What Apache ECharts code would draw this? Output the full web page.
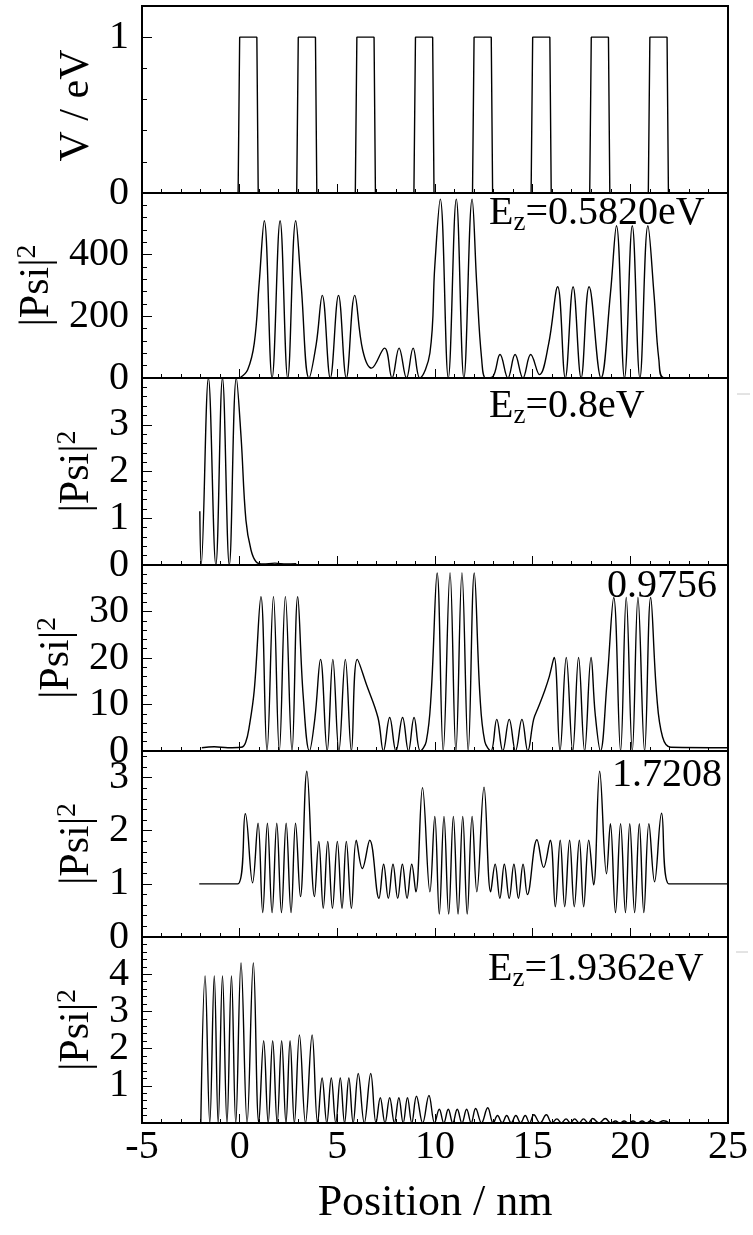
<!DOCTYPE html>
<html>
<head>
<meta charset="utf-8">
<script src="https://cdn.jsdelivr.net/npm/echarts@6.0.0/dist/echarts.min.js"></script>
<style>
  html, body { margin: 0; padding: 0; background: #fff; }
  #chart { width: 753px; height: 1235px; }
</style>
</head>
<body>
<div id="chart"></div>
<script>
// Stacked panels: barrier potential on top, |Psi|^2 for five energies below
// ==========================================================================

const FONT = "'Liberation Serif', 'Times New Roman', Times, serif"

// potential profile V(x), eV
const vProfile = [
  [-2, 0], [-0.08, 0], [0, 1], [0.88, 1], [0.95, 0],
  [2.92, 0], [3, 1], [3.88, 1], [3.95, 0],
  [5.92, 0], [6, 1], [6.88, 1], [6.95, 0],
  [8.92, 0], [9, 1], [9.88, 1], [9.95, 0],
  [11.92, 0], [12, 1], [12.88, 1], [12.95, 0],
  [14.92, 0], [15, 1], [15.88, 1], [15.95, 0],
  [17.92, 0], [18, 1], [18.88, 1], [18.95, 0],
  [20.92, 0], [21, 1], [21.88, 1], [21.95, 0], [25, 0],
]

// Ez = 0.5820 eV
const psi0582 = [
  [0, 0], [0.41, 27], [0.75, 114], [1.0, 309], [1.26, 510], [1.66, 0], [2.07, 510], [2.46, 0],
  [2.87, 510], [3.15, 300], [3.55, 0], [3.92, 110], [4.23, 268], [4.64, 0], [5.06, 268], [5.46, 0],
  [5.89, 268], [6.3, 90], [6.75, 32], [7.42, 97], [7.8, 0], [8.16, 97], [8.54, 0], [8.88, 97],
  [9.22, 0], [9.74, 81], [9.99, 363], [10.27, 580], [10.68, 0], [11.09, 580], [11.48, 0],
  [11.9, 580], [12.14, 300], [12.39, 60], [12.6, 0], [12.95, 4], [13.33, 76], [13.73, 0],
  [14.1, 76], [14.5, 0], [14.9, 76], [15.35, 11], [15.81, 108], [16.28, 296], [16.67, 0],
  [17.07, 296], [17.48, 0], [17.89, 296], [18.5, 0], [18.98, 273], [19.29, 494], [19.7, 0],
  [20.1, 494], [20.49, 0], [20.9, 494], [21.21, 273], [21.46, 60], [21.72, 0], [25, 0],
]

// Ez = 0.8 eV
const psi08 = [
  [-2.04, 1.15], [-1.97, 0], [-1.6, 4], [-1.22, 0], [-0.88, 4], [-0.53, 0], [-0.17, 4],
  [0.07, 2.75], [0.32, 0.96], [0.58, 0.32], [0.84, 0.07], [1.2, 0.02], [1.8, 0.04],
  [2.4, 0.02], [2.9, 0.03],
]

// Ez = 0.9756 eV
const psi09756 = [
  [-1.94, 0.7], [-1.3, 0.9], [-0.6, 0.7], [0.07, 0.8], [0.3, 1.8], [0.5, 5.5], [0.75, 13.2],
  [1.09, 33.2], [1.4, 0], [1.73, 33.2], [2.03, 0], [2.34, 33.2], [2.68, 0], [2.97, 33.2],
  [3.25, 12], [3.57, 0], [3.85, 7], [4.14, 19.7], [4.48, 0], [4.77, 19.7], [5.08, 0],
  [5.41, 19.7], [5.72, 0], [6.02, 19.7], [6.49, 14.3], [7.08, 7.2], [7.36, 0], [7.68, 7.2],
  [8.0, 0], [8.34, 7.2], [8.64, 0], [8.93, 7.2], [9.25, 0], [9.55, 2], [9.8, 12], [10.11, 38.3],
  [10.42, 0], [10.77, 38.3], [11.07, 0], [11.38, 38.3], [11.7, 0], [12.01, 38.3], [12.3, 12],
  [12.55, 2], [12.86, 0], [13.16, 6.8], [13.47, 0], [13.8, 6.8], [14.12, 0], [14.45, 6.8],
  [14.75, 0], [15.05, 6.8], [15.3, 9.5], [15.6, 12.8], [15.85, 16], [16.1, 20.1], [16.4, 0],
  [16.72, 20.1], [17.05, 0], [17.35, 20.1], [17.66, 0], [17.99, 20.1], [18.2, 8], [18.47, 0],
  [18.81, 15], [19.15, 33], [19.5, 0], [19.79, 33], [20.1, 0], [20.39, 33], [20.73, 0],
  [21.04, 33], [21.35, 12], [21.65, 3], [22.07, 0.8], [25, 0.7],
]

// Ez = 1.7208 eV
const psi17208 = [
  [-2.07, 1], [-0.1, 1], [0.29, 2.32], [0.66, 1.02], [0.94, 2.14], [1.18, 0.46], [1.42, 2.14],
  [1.66, 0.46], [1.9, 2.14], [2.14, 0.46], [2.38, 2.14], [2.63, 0.46], [2.86, 2.14], [3.11, 0.76],
  [3.44, 3.12], [3.83, 0.76], [4.05, 1.8], [4.28, 0.54], [4.51, 1.8], [4.75, 0.54], [5.0, 1.8],
  [5.24, 0.54], [5.46, 1.8], [5.72, 0.54], [5.97, 1.82], [6.28, 1.29], [6.66, 1.82], [7.13, 0.73],
  [7.37, 1.37], [7.61, 0.73], [7.85, 1.37], [8.09, 0.73], [8.33, 1.37], [8.57, 0.73], [8.81, 1.37],
  [9.02, 0.85], [9.36, 2.81], [9.74, 0.85], [9.99, 2.27], [10.22, 0.43], [10.46, 2.27],
  [10.7, 0.43], [10.94, 2.27], [11.18, 0.43], [11.42, 2.27], [11.65, 0.43], [11.9, 2.27],
  [12.14, 0.85], [12.51, 2.82], [12.85, 0.85], [13.08, 1.37], [13.32, 0.73], [13.55, 1.37],
  [13.8, 0.73], [14.04, 1.37], [14.27, 0.73], [14.51, 1.37], [14.73, 0.8], [15.22, 1.83],
  [15.56, 1.31], [15.9, 1.82], [16.16, 0.57], [16.41, 1.82], [16.64, 0.57], [16.89, 1.82],
  [17.13, 0.57], [17.39, 1.82], [17.61, 0.57], [17.87, 1.82], [18.12, 0.98], [18.43, 3.12],
  [18.78, 1.19], [18.98, 2.13], [19.24, 0.46], [19.5, 2.13], [19.75, 0.46], [19.97, 2.13],
  [20.22, 0.46], [20.46, 2.13], [20.69, 0.46], [20.95, 2.13], [21.24, 1.04], [21.6, 2.33],
  [21.98, 1.0], [25, 1.0],
]

// Ez = 1.9362 eV
const psi19362 = [
  [-1.99, 0], [-1.77, 3.95], [-1.53, 0], [-1.3, 3.95], [-1.1, 0], [-0.88, 3.95], [-0.65, 0],
  [-0.42, 3.95], [-0.2, 0], [0.07, 4.3], [0.38, 0], [0.7, 4.3], [0.98, 0],
  [1.23, 2.21], [1.46, 0], [1.69, 2.21], [1.92, 0], [2.15, 2.21], [2.37, 0], [2.58, 2.21],
  [2.8, 0], [3.06, 2.37], [3.37, 0], [3.71, 2.37], [3.99, 0],
  [4.22, 1.21], [4.46, 0], [4.69, 1.21], [4.92, 0], [5.15, 1.21], [5.37, 0], [5.59, 1.21],
  [5.81, 0], [6.07, 1.33], [6.38, 0], [6.71, 1.33], [6.98, 0],
  [7.2, 0.68], [7.44, 0], [7.68, 0.68], [7.92, 0], [8.15, 0.68], [8.37, 0], [8.59, 0.68],
  [8.81, 0], [9.05, 0.72], [9.37, 0], [9.69, 0.74], [9.98, 0],
  [10.22, 0.37], [10.45, 0], [10.68, 0.37], [10.91, 0], [11.14, 0.37], [11.38, 0], [11.62, 0.37],
  [11.85, 0], [12.08, 0.39], [12.38, 0], [12.7, 0.41], [12.98, 0],
  [13.2, 0.2], [13.44, 0], [13.67, 0.2], [13.9, 0], [14.14, 0.2], [14.38, 0], [14.62, 0.2],
  [14.84, 0], [15.06, 0.22], [15.38, 0], [15.7, 0.22], [15.98, 0],
  [16.24, 0.11], [16.47, 0], [16.71, 0.11], [16.93, 0], [17.15, 0.11], [17.38, 0], [17.6, 0.11],
  [17.84, 0], [18.07, 0.12], [18.4, 0], [18.72, 0.12], [19.0, 0],
  [19.24, 0.055], [19.46, 0], [19.68, 0.055], [19.91, 0], [20.14, 0.055], [20.37, 0], [20.6, 0.055],
  [20.83, 0], [21.06, 0.06], [21.38, 0], [21.7, 0.06], [22.0, 0],
]

const panelData = [vProfile, psi0582, psi08, psi09756, psi17208, psi19362]
const yMax = [1.2, 600, 4, 40, 3.5, 5]
const yStep = [1, 200, 1, 10, 1, 1]
const yNames = ['V / eV', '{a||Psi|}{s|2}', '{a||Psi|}{s|2}', '{a||Psi|}{s|2}', '{a||Psi|}{s|2}', '{a||Psi|}{s|2}']
const annTexts = [
  '{e|E}{z|z}{e|=0.5820eV}',
  '{e|E}{z|z}{e|=0.8eV}',
  '{e|0.9756}',
  '{e|1.7208}',
  '{e|E}{z|z}{e|=1.9362eV}',
]
const xTitle = 'Position / nm'

// layout
const panelTops = [6, 193, 378, 565, 751, 937]
const panelBottom = 1123
const nameGaps = [41, 75, 40, 54, 40, 40]
const namePads = [[0, 12, 0, 0], 0, 0, 0, 0, 0]
const annPos = [[489, 213], [489, 406], [607, 586], [612, 775], [488, 969]]

const grids = []
const xAxes = []
const yAxes = []
const series = []

panelTops.forEach((top, i) => {
  const bottom = i < panelTops.length - 1 ? panelTops[i + 1] : panelBottom
  const last = i === panelTops.length - 1
  grids.push({
    left: 142, width: 586, top: top, height: bottom - top,
    show: true, borderColor: '#000', borderWidth: 2, backgroundColor: 'transparent',
  })
  xAxes.push({
    gridIndex: i, type: 'value', min: -5, max: 25, interval: 5,
    axisLine: { show: true, onZero: false, lineStyle: { color: '#000', width: 2 } },
    axisTick: { inside: true, length: 9, lineStyle: { color: '#000', width: 1 } },
    minorTick: { show: true, splitNumber: 5, length: 4, lineStyle: { color: '#000', width: 1 } },
    splitLine: { show: false },
    axisLabel: {
      show: last, fontFamily: FONT, fontSize: 40, color: '#000', margin: 4,
    },
    name: last ? xTitle : '',
    nameLocation: 'middle',
    nameGap: 58,
    nameTextStyle: { fontFamily: FONT, fontSize: 44, color: '#000' },
  })
  // minor ticks (fifth of the labelled step)
  yAxes.push({
    gridIndex: i, type: 'value', min: 0, max: yMax[i], interval: yStep[i] / 5, position: 'left',
    axisLine: { show: false, onZero: false },
    axisTick: { inside: true, length: 5, lineStyle: { color: '#000', width: 1 } },
    axisLabel: { show: false },
    splitLine: { show: false },
  })
  // labelled ticks
  yAxes.push({
    gridIndex: i, type: 'value', min: 0, max: yMax[i], interval: yStep[i], position: 'left',
    axisLine: { show: true, onZero: false, lineStyle: { color: '#000', width: 2 } },
    axisTick: { inside: true, length: 10, lineStyle: { color: '#000', width: 1 } },
    axisLabel: {
      fontFamily: FONT, fontSize: 40, color: '#000', margin: 13, showMaxLabel: false,
    },
    splitLine: { show: false },
    name: yNames[i],
    nameLocation: 'middle',
    nameRotate: 90,
    nameGap: nameGaps[i],
    nameTextStyle: {
      fontFamily: FONT, fontSize: 42, color: '#000', padding: namePads[i],
      rich: {
        a: { fontFamily: FONT, fontSize: 42, color: '#000', lineHeight: 46 },
        s: { fontFamily: FONT, fontSize: 28, color: '#000', lineHeight: 30, verticalAlign: 'top' },
      },
    },
  })
  series.push({
    type: 'line',
    xAxisIndex: i,
    yAxisIndex: 2 * i + 1,
    data: panelData[i],
    showSymbol: false,
    smooth: i === 0 ? false : 0.4,
    lineStyle: { color: '#000', width: 1.4 },
    silent: true,
  })
})

const graphics = annTexts.map((t, i) => ({
  type: 'text',
  x: annPos[i][0],
  y: annPos[i][1],
  silent: true,
  style: {
    text: t,
    align: 'left',
    verticalAlign: 'middle',
    fill: '#000',
    fontFamily: FONT,
    fontSize: 40,
    rich: {
      e: { fontFamily: FONT, fontSize: 40, lineHeight: 46, fill: '#000' },
      z: { fontFamily: FONT, fontSize: 27, lineHeight: 38, fill: '#000', verticalAlign: 'bottom' },
    },
  },
}))
// small grey marks right of the frame
graphics.push({ type: 'line', silent: true, shape: { x1: 737, y1: 394, x2: 750, y2: 394 }, style: { stroke: '#c8c8c8', lineWidth: 1 } })
graphics.push({ type: 'line', silent: true, shape: { x1: 736, y1: 952, x2: 748, y2: 952 }, style: { stroke: '#c8c8c8', lineWidth: 1 } })

const chart = echarts.init(document.getElementById('chart'))
chart.setOption({
  animation: false,
  backgroundColor: '#fff',
  textStyle: { fontFamily: FONT },
  grid: grids,
  xAxis: xAxes,
  yAxis: yAxes,
  series: series,
  graphic: graphics,
})
</script>
</body>
</html>
